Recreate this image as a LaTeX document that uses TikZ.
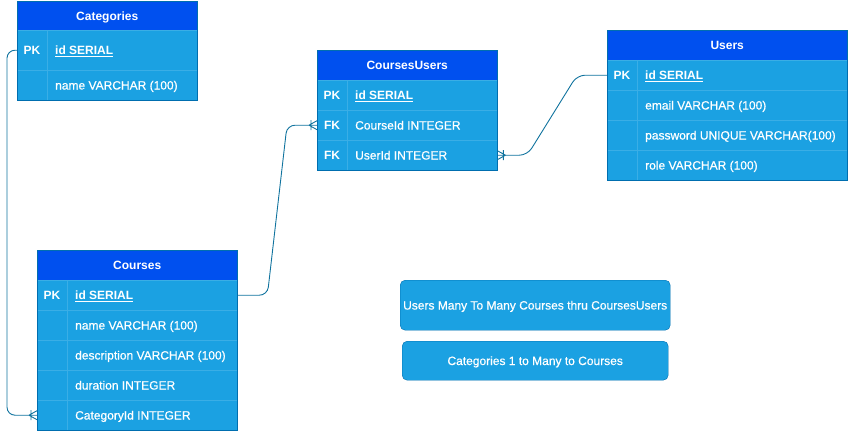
\documentclass[tikz,border=0pt]{standalone}
\usepackage{fontspec}
\setmainfont{Liberation Sans}
\newfontfamily\medfont[FakeBold=0.6]{Liberation Sans}
\definecolor{hdrfill}{HTML}{0050EF}
\definecolor{hdrline}{HTML}{001DBC}
\definecolor{rowfill}{HTML}{1BA1E2}
\definecolor{tabline}{HTML}{006EAF}
\definecolor{rowsep}{HTML}{3AAEE6}
\definecolor{relcol}{HTML}{10739E}
\tikzset{
  hdr/.style={draw=hdrline, fill=hdrfill, text=white, font=\fontsize{12}{14}\selectfont\bfseries, text height=8.6, text depth=0, minimum height=29, inner sep=0, anchor=north west},
  rowb/.style={draw=rowsep, fill=rowfill, minimum height=30, inner sep=0, anchor=north west},
  outline/.style={draw=tabline, line width=0.8},
  colsep/.style={draw=rowsep},
  keyt/.style={text=white, font=\fontsize{12}{14}\selectfont\bfseries, text height=8.6, text depth=0, inner sep=0},
  fldt/.style={text=white, font=\fontsize{12}{14}\selectfont\medfont, text height=8.6, text depth=0, anchor=west, inner sep=0},
  pkt/.style={fldt, font=\fontsize{12}{14}\selectfont\bfseries},
  rel/.style={draw=relcol, line width=0.9, rounded corners=8},
  crow/.style={draw=relcol, line width=0.9},
  note/.style={draw=tabline, fill=rowfill, rounded corners=5, text=white, font=\fontsize{12}{14}\selectfont\medfont, text height=8.6, text depth=0, inner sep=0}
}
\begin{document}
\begin{tikzpicture}[x=1pt,y=-1pt]
\useasboundingbox (0,0) rectangle (848,431);
% ---------- Categories ----------
\node[hdr, minimum width=180] (cat-h) at (17,1) {Categories};
\node[rowb, minimum width=180, minimum height=40] (cat-r1) at (17,30) {};
\node[rowb, minimum width=180] (cat-r2) at (17,70) {};
\draw[colsep] ([xshift=30]cat-r1.north west) -- ([xshift=30]cat-r2.south west);
\draw[outline] (cat-h.north west) rectangle (cat-r2.south east);
\node[keyt] (cat-k1) at ([xshift=15]cat-r1.west) {PK};
\node[pkt] (cat-f1) at ([xshift=38]cat-r1.west) {\underline{id SERIAL}};
\node[fldt] (cat-f2) at ([xshift=38]cat-r2.west) {name VARCHAR (100)};
% ---------- CoursesUsers ----------
\node[hdr, minimum width=180, minimum height=30] (cu-h) at (317,50) {CoursesUsers};
\node[rowb, minimum width=180] (cu-r1) at (317,80) {};
\node[rowb, minimum width=180] (cu-r2) at (317,110) {};
\node[rowb, minimum width=180] (cu-r3) at (317,140) {};
\draw[colsep] ([xshift=30]cu-r1.north west) -- ([xshift=30]cu-r3.south west);
\draw[outline] (cu-h.north west) rectangle (cu-r3.south east);
\node[keyt] (cu-k1) at ([xshift=15]cu-r1.west) {PK};
\node[keyt] (cu-k2) at ([xshift=15]cu-r2.west) {FK};
\node[keyt] (cu-k3) at ([xshift=15]cu-r3.west) {FK};
\node[pkt] (cu-f1) at ([xshift=38]cu-r1.west) {\underline{id SERIAL}};
\node[fldt] (cu-f2) at ([xshift=38]cu-r2.west) {CourseId INTEGER};
\node[fldt] (cu-f3) at ([xshift=38]cu-r3.west) {UserId INTEGER};
% ---------- Users ----------
\node[hdr, minimum width=240, minimum height=30] (usr-h) at (607,30) {Users};
\node[rowb, minimum width=240] (usr-r1) at (607,60) {};
\node[rowb, minimum width=240] (usr-r2) at (607,90) {};
\node[rowb, minimum width=240] (usr-r3) at (607,120) {};
\node[rowb, minimum width=240] (usr-r4) at (607,150) {};
\draw[colsep] ([xshift=30]usr-r1.north west) -- ([xshift=30]usr-r4.south west);
\draw[outline] (usr-h.north west) rectangle (usr-r4.south east);
\node[keyt] (usr-k1) at ([xshift=15]usr-r1.west) {PK};
\node[pkt] (usr-f1) at ([xshift=38]usr-r1.west) {\underline{id SERIAL}};
\node[fldt] (usr-f2) at ([xshift=38]usr-r2.west) {email VARCHAR (100)};
\node[fldt] (usr-f3) at ([xshift=38]usr-r3.west) {password UNIQUE VARCHAR(100)};
\node[fldt] (usr-f4) at ([xshift=38]usr-r4.west) {role VARCHAR (100)};
% ---------- Courses ----------
\node[hdr, minimum width=200, minimum height=30] (crs-h) at (37,250) {Courses};
\node[rowb, minimum width=200] (crs-r1) at (37,280) {};
\node[rowb, minimum width=200] (crs-r2) at (37,310) {};
\node[rowb, minimum width=200] (crs-r3) at (37,340) {};
\node[rowb, minimum width=200] (crs-r4) at (37,370) {};
\node[rowb, minimum width=200] (crs-r5) at (37,400) {};
\draw[colsep] ([xshift=30]crs-r1.north west) -- ([xshift=30]crs-r5.south west);
\draw[outline] (crs-h.north west) rectangle (crs-r5.south east);
\node[keyt] (crs-k1) at ([xshift=15]crs-r1.west) {PK};
\node[pkt] (crs-f1) at ([xshift=38]crs-r1.west) {\underline{id SERIAL}};
\node[fldt] (crs-f2) at ([xshift=38]crs-r2.west) {name VARCHAR (100)};
\node[fldt] (crs-f3) at ([xshift=38]crs-r3.west) {description VARCHAR (100)};
\node[fldt] (crs-f4) at ([xshift=38]crs-r4.west) {duration INTEGER};
\node[fldt] (crs-f5) at ([xshift=38]crs-r5.west) {CategoryId INTEGER};
% ---------- Notes ----------
\node[note, minimum width=270, minimum height=50, anchor=north west] (note1) at (400,280) {Users Many To Many Courses thru CoursesUsers};
\node[note, minimum width=266, minimum height=39, anchor=north west] (note2) at (402,341) {Categories 1 to Many to Courses};
% ---------- Relations ----------
\draw[rel] (cat-r1.west) -- ([xshift=-10]cat-r1.west) |- (crs-r5.west);
\draw[crow] ([xshift=-8]crs-r5.west) -- ([yshift=-4.5]crs-r5.west)
            ([xshift=-8]crs-r5.west) -- ([yshift=4.5]crs-r5.west)
            ([xshift=-6,yshift=-5]crs-r5.west) -- ([xshift=-6,yshift=5]crs-r5.west);
\draw[rel] (crs-r1.east) -- ([xshift=30]crs-r1.east) -- ([xshift=-30]cu-r2.west) -- (cu-r2.west);
\draw[crow] ([xshift=-8]cu-r2.west) -- ([yshift=-4.5]cu-r2.west)
            ([xshift=-8]cu-r2.west) -- ([yshift=4.5]cu-r2.west)
            ([xshift=-6,yshift=-5]cu-r2.west) -- ([xshift=-6,yshift=5]cu-r2.west);
\draw[rel] (cu-r3.east) -- ([xshift=30]cu-r3.east) -- ([xshift=-30]usr-r1.west) -- (usr-r1.west);
\draw[crow] ([xshift=8]cu-r3.east) -- ([yshift=-4.5]cu-r3.east)
            ([xshift=8]cu-r3.east) -- ([yshift=4.5]cu-r3.east)
            ([xshift=6,yshift=-5]cu-r3.east) -- ([xshift=6,yshift=5]cu-r3.east);
\end{tikzpicture}
\end{document}
